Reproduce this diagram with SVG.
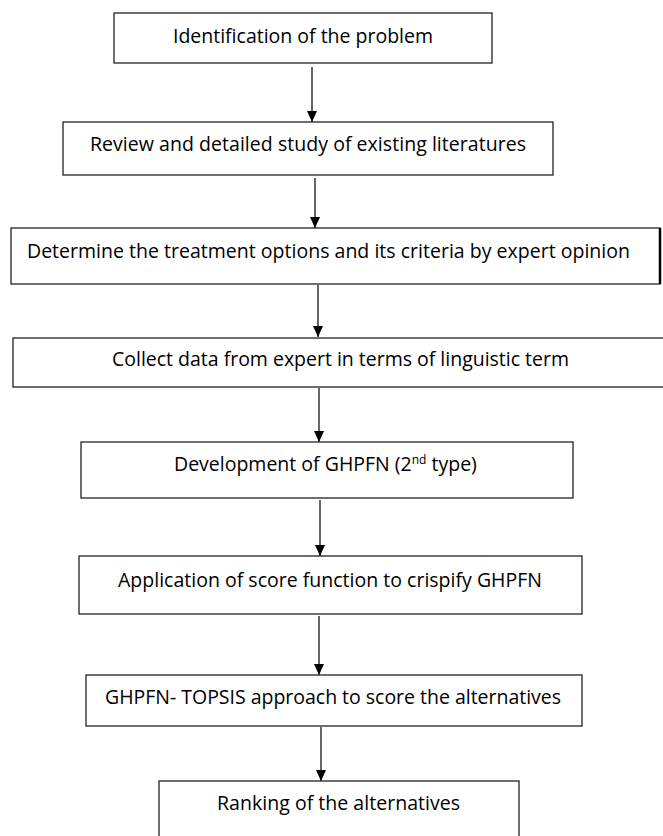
<svg xmlns="http://www.w3.org/2000/svg" width="663" height="836" viewBox="0 0 663 836">
<style>
.box{fill:#fff;stroke:#222;stroke-width:1.3}
.lbl{font-family:"Open Sans","Liberation Sans",sans-serif;font-size:19.5px;fill:#000}
.sup{font-size:12px}
.conn{stroke:#000;stroke-width:1.2;fill:none;marker-end:url(#ah)}
</style>
<defs>
<marker id="ah" viewBox="0 0 11 10" refX="11" refY="5" markerWidth="11" markerHeight="10" markerUnits="userSpaceOnUse" orient="auto">
<path d="M0,0 L11,5 L0,10 z" fill="#000"/>
</marker>
</defs>
<rect width="663" height="836" fill="#fff"/>
<g id="connectors">
<line class="conn" x1="312" y1="67" x2="312" y2="122"/>
<line class="conn" x1="315" y1="178" x2="315" y2="228"/>
<line class="conn" x1="318" y1="285" x2="318" y2="337"/>
<line class="conn" x1="319" y1="388" x2="319" y2="442"/>
<line class="conn" x1="320" y1="500" x2="320" y2="556"/>
<line class="conn" x1="319" y1="616" x2="319" y2="675"/>
<line class="conn" x1="321" y1="727" x2="321" y2="781"/>
</g>
<g id="n1">
<rect class="box" x="114" y="13" width="378" height="50"/>
<text class="lbl" x="173" y="43" textLength="260" lengthAdjust="spacing">Identification of the problem</text>
</g>
<g id="n2">
<rect class="box" x="63" y="122" width="490" height="53"/>
<text class="lbl" x="90" y="151" textLength="436" lengthAdjust="spacing">Review and detailed study of existing literatures</text>
</g>
<g id="n3">
<rect class="box" x="11" y="228" width="649" height="56"/>
<line x1="660" y1="228" x2="660" y2="284" stroke="#000" stroke-width="2.5"/>
<text class="lbl" x="27" y="258" textLength="603" lengthAdjust="spacing">Determine the treatment options and its criteria by expert opinion</text>
</g>
<g id="n4">
<rect class="box" x="13" y="338" width="662" height="49"/>
<text class="lbl" x="112" y="366" textLength="457" lengthAdjust="spacing">Collect data from expert in terms of linguistic term</text>
</g>
<g id="n5">
<rect class="box" x="81" y="442" width="492" height="56"/>
<text class="lbl" x="174" y="471">Development of GHPFN (2<tspan class="sup" dy="-7">nd</tspan><tspan dy="7"> type)</tspan></text>
</g>
<g id="n6">
<rect class="box" x="79" y="556" width="503" height="58"/>
<text class="lbl" x="118" y="587" textLength="424" lengthAdjust="spacing">Application of score function to crispify GHPFN</text>
</g>
<g id="n7">
<rect class="box" x="86" y="675" width="496" height="51"/>
<text class="lbl" x="105" y="704" textLength="456" lengthAdjust="spacing">GHPFN- TOPSIS approach to score the alternatives</text>
</g>
<g id="n8">
<rect class="box" x="159" y="781" width="360" height="70"/>
<text class="lbl" x="217" y="810" textLength="243" lengthAdjust="spacing">Ranking of the alternatives</text>
</g>
</svg>
